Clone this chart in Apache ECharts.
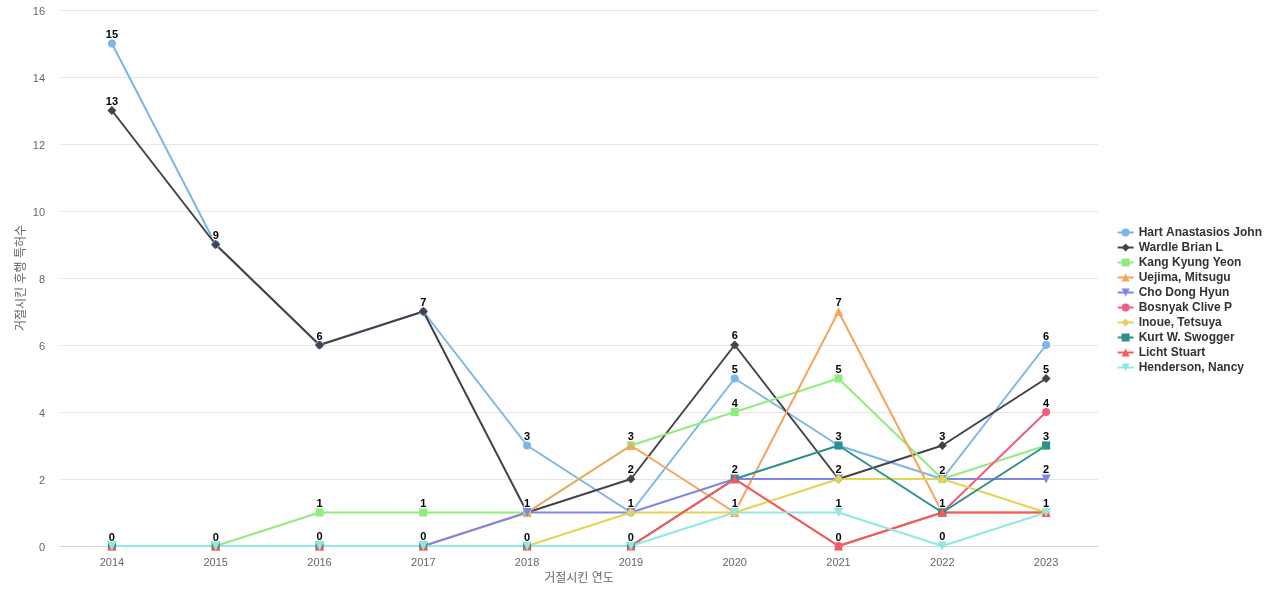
<!DOCTYPE html>
<html><head><meta charset="utf-8">
<script src="https://cdn.jsdelivr.net/npm/echarts@6/dist/echarts.min.js"></script>
<style>html,body{margin:0;padding:0;background:#fff}#c{width:1280px;height:600px}</style>
</head><body><div id="c"></div>
<script>
const years = ['2014','2015','2016','2017','2018','2019','2020','2021','2022','2023'];
const seriesNames = ['Hart Anastasios John','Wardle Brian L','Kang Kyung Yeon','Uejima, Mitsugu','Cho Dong Hyun','Bosnyak Clive P','Inoue, Tetsuya','Kurt W. Swogger','Licht Stuart','Henderson, Nancy'];
const hart     = [15, 9, 6, 7, 3, 1, 5, 3, 2, 6];
const wardle   = [13, 9, 6, 7, 1, 2, 6, 2, 3, 5];
const kang     = [0, 0, 1, 1, 1, 3, 4, 5, 2, 3];
const uejima   = [0, 0, 0, 0, 1, 3, 1, 7, 1, 1];
const cho      = [0, 0, 0, 0, 1, 1, 2, 2, 2, 2];
const bosnyak  = [0, 0, 0, 0, 0, 0, 2, 0, 1, 4];
const inoue    = [0, 0, 0, 0, 0, 1, 1, 2, 2, 1];
const kurt     = [0, 0, 0, 0, 0, 0, 2, 3, 1, 3];
const licht    = [0, 0, 0, 0, 0, 0, 2, 0, 1, 1];
const henderson= [0, 0, 0, 0, 0, 0, 1, 1, 0, 1];
const yTicks = [0, 2, 4, 6, 8, 10, 12, 14, 16];

const allData = [hart, wardle, kang, uejima, cho, bosnyak, inoue, kurt, licht, henderson];
const colors = ['#7cb5ec','#434348','#90ed7d','#f7a35c','#8085e9','#f15c80','#e4d354','#2b908f','#f45b5b','#91e8e1'];
const symbols = ['circle','diamond','rect','triangle','path://M0,0 L10,0 L5,10 Z'];
const symSizes = [8, 9, 8, 9, 9];

const labeled = years.map(() => new Set());
const series = allData.map((arr, si) => ({
  name: seriesNames[si],
  type: 'line',
  data: arr.map((v, i) => {
    const show = !labeled[i].has(v);
    labeled[i].add(v);
    return { value: v, label: { show } };
  }),
  symbol: symbols[si % 5],
  symbolSize: symSizes[si % 5],
  showAllSymbol: true,
  lineStyle: { width: 2, color: colors[si] },
  itemStyle: { color: colors[si] },
  label: {
    position: 'top', distance: -1,
    color: '#000', fontWeight: 'bold', fontSize: 11,
    fontFamily: 'Liberation Sans, Arial, sans-serif',
    textBorderColor: '#fff', textBorderWidth: 2
  },
  emphasis: { disabled: true },
  animation: false
}));

const chart = echarts.init(document.getElementById('c'));
chart.setOption({
  animation: false,
  textStyle: { fontFamily: 'Liberation Sans, "Noto Sans CJK KR", sans-serif' },
  grid: { left: 60, right: 182, top: 10, bottom: 54 },
  legend: {
    orient: 'vertical', right: 13, top: 'middle',
    itemWidth: 16, itemHeight: 10, itemGap: 3,
    textStyle: { fontWeight: 'bold', fontSize: 12, color: '#333333', fontFamily: 'Liberation Sans, Arial, sans-serif' },
    data: seriesNames
  },
  xAxis: {
    type: 'category', data: years, boundaryGap: true,
    name: '거절시킨 연도', nameLocation: 'middle', nameGap: 27,
    nameTextStyle: { color: '#666666', fontSize: 12, fontFamily: 'Liberation Sans, "Noto Sans CJK KR", sans-serif' },
    axisLine: { lineStyle: { color: '#ccd6eb' } },
    axisTick: { show: false },
    axisLabel: { color: '#666666', fontSize: 11, margin: 11 }
  },
  yAxis: {
    type: 'value', min: 0, max: 16, interval: 2,
    name: '거절시킨 후행 특허수', nameLocation: 'middle', nameGap: 32, nameMoveOverlap: false,
    nameTextStyle: { color: '#666666', fontSize: 12, fontFamily: 'Liberation Sans, "Noto Sans CJK KR", sans-serif' },
    axisLine: { show: false }, axisTick: { show: false },
    splitLine: { lineStyle: { color: '#e6e6e6' } },
    axisLabel: { color: '#666666', fontSize: 11, margin: 15,
      formatter: v => yTicks.includes(v) ? '{a|' + v + '}' : '',
      rich: { a: { color: '#666666', fontSize: 11, padding: [4, 0, 0, 0] } } }
  },
  series
});
</script></body></html>
